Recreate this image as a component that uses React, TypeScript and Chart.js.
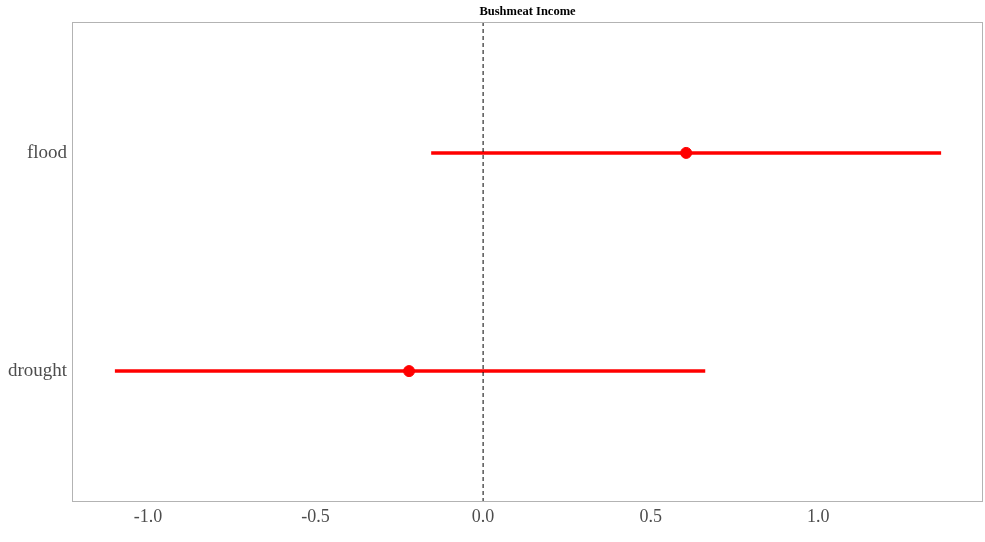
import React, { useEffect, useRef } from "react";
import { Chart, registerables } from "chart.js";

Chart.register(...registerables);

const TITLE = "Bushmeat Income";
const categories = ["drought", "flood"];
const estimates = [-0.221, 0.606];
const lowerCI = [-1.099, -0.155];
const upperCI = [0.663, 1.367];
const xTicks = [-1.0, -0.5, 0.0, 0.5, 1.0];
const X_MIN = -1.227;
const X_MAX = 1.492;
const Y_MIN = 0.4;
const Y_MAX = 2.6;

const RED = "#ff0000";
const FONT = "'Liberation Serif', 'DejaVu Serif', serif";

const framePlugin = {
  id: "frameAndTitle",
  afterDraw(chart: any) {
    const { ctx, chartArea } = chart;
    ctx.save();
    ctx.strokeStyle = "#b3b3b3";
    ctx.lineWidth = 1;
    ctx.strokeRect(
      Math.round(chartArea.left) + 0.5,
      Math.round(chartArea.top) + 0.5,
      Math.round(chartArea.right - chartArea.left) - 1,
      Math.round(chartArea.bottom - chartArea.top) - 1
    );
    ctx.fillStyle = "#000";
    ctx.font = `bold 12.5px ${FONT}`;
    ctx.textAlign = "center";
    ctx.textBaseline = "middle";
    ctx.fillText(TITLE, (chartArea.left + chartArea.right) / 2, 12);
    ctx.restore();
  },
};

export default function App() {
  const ref = useRef<HTMLCanvasElement | null>(null);
  useEffect(() => {
    if (!ref.current) return;
    const ciSets = categories.map((c, i) => ({
      type: "line" as const,
      label: c + " CI",
      data: [
        { x: lowerCI[i], y: i + 1 },
        { x: upperCI[i], y: i + 1 },
      ],
      borderColor: RED,
      backgroundColor: RED,
      borderWidth: 3.5,
      pointRadius: 0,
      showLine: true,
    }));
    const chart = new Chart(ref.current, {
      type: "scatter",
      data: {
        datasets: [
          {
            type: "line",
            label: "zero",
            data: [
              { x: 0, y: Y_MIN },
              { x: 0, y: Y_MAX },
            ],
            borderColor: "#000",
            borderWidth: 1,
            borderDash: [4, 3],
            pointRadius: 0,
            showLine: true,
          } as any,
          {
            type: "scatter",
            label: "estimate",
            data: estimates.map((v, i) => ({ x: v, y: i + 1 })),
            backgroundColor: RED,
            borderColor: RED,
            pointRadius: 5.5,
            pointHoverRadius: 5.5,
          } as any,
          ...(ciSets as any[]),
        ],
      },
      options: {
        animation: false,
        responsive: false,
        maintainAspectRatio: false,
        layout: { autoPadding: false, padding: { top: 22, right: 2, left: 0, bottom: 0 } },
        plugins: {
          legend: { display: false },
          title: { display: false },
          tooltip: { enabled: false },
        },
        scales: {
          x: {
            type: "linear",
            min: X_MIN,
            max: X_MAX,
            grid: { display: false, drawTicks: false },
            border: { display: false },
            afterBuildTicks: (s: any) => {
              s.ticks = xTicks.map((v) => ({ value: v }));
            },
            afterFit: (s: any) => {
              s.height = 40;
              s.paddingLeft = 0;
              s.paddingRight = 0;
            },
            ticks: {
              padding: 4,
              color: "#4d4d4d",
              font: { family: FONT, size: 18 },
              callback: (v: any) => Number(v).toFixed(1),
              maxRotation: 0,
            },
          },
          y: {
            type: "linear",
            min: Y_MIN,
            max: Y_MAX,
            grid: { display: false, drawTicks: false },
            border: { display: false },
            afterBuildTicks: (s: any) => {
              s.ticks = categories.map((_, i) => ({ value: i + 1 }));
            },
            afterFit: (s: any) => {
              s.width = 72;
              s.paddingTop = 0;
              s.paddingBottom = 0;
            },
            ticks: {
              padding: 5,
              color: "#4d4d4d",
              font: { family: FONT, size: 19 },
              callback: (v: any) => categories[Math.round(Number(v)) - 1] ?? "",
            },
          },
        },
      },
      plugins: [framePlugin],
    });
    return () => chart.destroy();
  }, []);
  return (
    <div style={{ position: "fixed", left: 0, top: 0, width: 985, height: 542, background: "#fff" }}>
      <canvas ref={ref} width={985} height={542} style={{ width: 985, height: 542 }} />
    </div>
  );
}
